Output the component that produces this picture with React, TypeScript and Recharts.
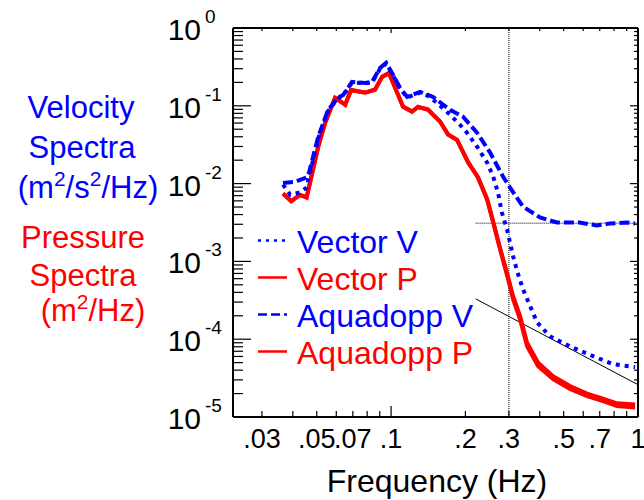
import React from "react";
import { LineChart, Line, XAxis, YAxis, ReferenceLine, Legend } from "recharts";

const FONT = "'Liberation Sans', Arial, Helvetica, sans-serif";
const BLUE = "#0000ff";
const RED = "#ff0000";

// Vector velocity spectrum (dotted)
const vectorVFreq = [0.0365, 0.039, 0.0428, 0.0455, 0.0465, 0.0507, 0.0556, 0.061, 0.064, 0.0695, 0.0785, 0.0838, 0.0903, 0.0955, 0.1009, 0.1087, 0.1162, 0.131, 0.14, 0.1535, 0.1733, 0.19, 0.203, 0.223, 0.245, 0.259, 0.271, 0.281, 0.295, 0.312, 0.324, 0.342, 0.39, 0.44, 0.53, 0.658, 0.792, 0.973];
const vectorVPsd = [0.0097, 0.0072, 0.0077, 0.0089, 0.012, 0.038, 0.086, 0.125, 0.136, 0.2, 0.195, 0.2, 0.3, 0.35, 0.26, 0.167, 0.128, 0.148, 0.136, 0.109, 0.0767, 0.0571, 0.0451, 0.0298, 0.0186, 0.0123, 0.0077, 0.00425, 0.00257, 0.00116, 0.00075, 0.00044, 0.000165, 0.000109, 0.000081, 0.0000605, 0.0000478, 0.0000438];

// Vector pressure spectrum
const vectorPFreq = [0.0365, 0.0394, 0.0428, 0.0455, 0.0507, 0.0541, 0.0593, 0.0652, 0.0689, 0.0785, 0.0861, 0.092, 0.0981, 0.1118, 0.1216, 0.1285, 0.1411, 0.158, 0.1702, 0.185, 0.205, 0.225, 0.2448, 0.2588, 0.2762, 0.2978, 0.3118, 0.3327, 0.3555, 0.394, 0.453, 0.53, 0.622, 0.7215, 0.822, 0.973];
const vectorPPsd = [0.0075, 0.0059, 0.0072, 0.0066, 0.0298, 0.0605, 0.127, 0.103, 0.16, 0.147, 0.16, 0.237, 0.265, 0.097, 0.0838, 0.097, 0.0889, 0.0623, 0.0425, 0.0367, 0.0186, 0.0119, 0.0062, 0.0032, 0.00143, 0.00059, 0.00033, 0.00018, 0.000081, 0.000045, 0.0000307, 0.0000229, 0.0000186, 0.000016, 0.0000138, 0.0000132];

// Aquadopp velocity spectrum (dashed)
const aquaVFreq = [0.0365, 0.0408, 0.0453, 0.0465, 0.0507, 0.0556, 0.061, 0.064, 0.0695, 0.0785, 0.0838, 0.0903, 0.0955, 0.1009, 0.1087, 0.1162, 0.131, 0.1479, 0.1733, 0.1957, 0.2229, 0.2518, 0.284, 0.3033, 0.342, 0.401, 0.47, 0.58, 0.68, 0.77, 0.9, 0.973];
const aquaVPsd = [0.0102, 0.0105, 0.0119, 0.0138, 0.04, 0.089, 0.127, 0.138, 0.203, 0.197, 0.203, 0.307, 0.356, 0.265, 0.17, 0.13, 0.151, 0.13, 0.0889, 0.0723, 0.0451, 0.025, 0.0123, 0.0089, 0.00507, 0.00367, 0.00316, 0.00316, 0.0029, 0.00307, 0.00316, 0.00307];

// Aquadopp pressure spectrum
const aquaPFreq = [0.0365, 0.0394, 0.0428, 0.0455, 0.0507, 0.0541, 0.0593, 0.0652, 0.0689, 0.0785, 0.0861, 0.092, 0.0981, 0.1118, 0.1216, 0.1285, 0.1411, 0.158, 0.1702, 0.185, 0.205, 0.225, 0.2448, 0.2588, 0.2762, 0.2978, 0.3118, 0.3327, 0.3555, 0.394, 0.453, 0.53, 0.622, 0.7215, 0.822, 0.973];
const aquaPPsd = [0.0074, 0.006, 0.0071, 0.0067, 0.03, 0.061, 0.126, 0.104, 0.158, 0.148, 0.162, 0.235, 0.262, 0.098, 0.085, 0.096, 0.09, 0.063, 0.043, 0.0362, 0.019, 0.0121, 0.0064, 0.0033, 0.0015, 0.00063, 0.00036, 0.0002, 0.00009, 0.00005, 0.0000335, 0.000025, 0.00002, 0.0000172, 0.000015, 0.0000145];

// reference lines
const cutoffFreq = 0.3;
const noiseFloorLine = [{ x: 0.22, y: 0.0031 }, { x: 1, y: 0.0031 }];
const slopeLine = [{ x: 0.22, y: 0.00033 }, { x: 1, y: 0.000026 }];

// axes
const xDomain = [0.0229, 1];
const yDomain = [1e-5, 1];
const xTicks = [0.03, 0.04, 0.05, 0.06, 0.07, 0.08, 0.09, 0.1, 0.2, 0.3, 0.4, 0.5, 0.6, 0.7, 0.8, 0.9, 1];
const xLabelTicks = [0.03, 0.05, 0.07, 0.1, 0.2, 0.3, 0.5, 0.7, 1];
const xLabelText = [".03", ".05", ".07", ".1", ".2", ".3", ".5", ".7", "1"];
const yDecades = [1e-5, 1e-4, 1e-3, 1e-2, 1e-1];
const yExponents = ["-5", "-4", "-3", "-2", "-1", "0"];
const minorSteps = [1, 2, 3, 4, 5, 6, 7, 8, 9];
const yTicks = [...yDecades.flatMap((d) => minorSteps.map((m) => m * d)), 1];

const legendNames = ["Vector V", "Vector P", "Aquadopp V", "Aquadopp P"];
const legendColors = [BLUE, RED, BLUE, RED];
const legendDashes = ["3 5", undefined, "9 4", undefined];

const zip = (f: number[], p: number[]) => f.map((x, i) => ({ x, y: p[i] }));
const vectorV = zip(vectorVFreq, vectorVPsd);
const vectorP = zip(vectorPFreq, vectorPPsd);
const aquaV = zip(aquaVFreq, aquaVPsd);
const aquaP = zip(aquaPFreq, aquaPPsd);

const isDecade = (v: number) => Math.abs(Math.log10(v) - Math.round(Math.log10(v))) < 1e-6;

const BottomTick = (props: any) => {
  const { x, y, payload } = props;
  const v = payload.value;
  const idx = xLabelTicks.findIndex((t) => Math.abs(t - v) < 1e-9);
  return (
    <g>
      <line x1={x} x2={x} y1={y} y2={y - (isDecade(v) ? 11 : 6)} stroke="#000" strokeWidth={1.2} />
      {idx >= 0 && (
        <text x={x} y={y + 31} textAnchor="middle" fontSize={27} fontFamily={FONT} fill="#000">
          {xLabelText[idx]}
        </text>
      )}
    </g>
  );
};

const TopTick = (props: any) => {
  const { x, y, payload } = props;
  return <line x1={x} x2={x} y1={y} y2={y + (isDecade(payload.value) ? 5 : 3)} stroke="#000" strokeWidth={1.2} />;
};

const LeftTick = (props: any) => {
  const { x, y, payload } = props;
  const v = payload.value;
  const major = isDecade(v);
  const exp = yExponents[Math.round(Math.log10(v)) + 5];
  return (
    <g>
      <line x1={x} x2={x + (major ? 18 : 10)} y1={y} y2={y} stroke="#000" strokeWidth={1.2} />
      {major && (
        <g fontFamily={FONT} fill="#000">
          <text x={x - 32} y={y + 12} textAnchor="end" fontSize={30}>10</text>
          <text x={x - 28} y={y - 5} fontSize={19}>{exp}</text>
        </g>
      )}
    </g>
  );
};

const RightTick = (props: any) => {
  const { x, y, payload } = props;
  return <line x1={x} x2={x - (isDecade(payload.value) ? 8 : 4)} y1={y} y2={y} stroke="#000" strokeWidth={1.2} />;
};

const AxisTitles = () => (
  <g fontFamily={FONT} fontSize={31} textAnchor="middle">
    <text x={81} y={118} fill={BLUE}>Velocity</text>
    <text x={82} y={158} fill={BLUE}>Spectra</text>
    <text x={88} y={198} fill={BLUE}>
      (m<tspan dy={-12} fontSize={21}>2</tspan>
      <tspan dy={12}>/s</tspan>
      <tspan dy={-12} fontSize={21}>2</tspan>
      <tspan dy={12}>/Hz)</tspan>
    </text>
    <text x={83} y={248} fill={RED}>Pressure</text>
    <text x={83} y={286} fill={RED}>Spectra</text>
    <text x={93} y={321} fill={RED}>
      (m<tspan dy={-12} fontSize={21}>2</tspan>
      <tspan dy={12}>/Hz)</tspan>
    </text>
  </g>
);

const XTitle = () => (
  <text x={437} y={492} textAnchor="middle" fontSize={32} fontFamily={FONT} fill="#000">
    Frequency (Hz)
  </text>
);

const LegendBox = () => (
  <svg width={250} height={160} style={{ display: "block" }}>
    {legendNames.map((name, i) => {
      const base = 31 + 37 * i;
      return (
        <g key={name}>
          <line x1={2} x2={31} y1={base - 12.5} y2={base - 12.5} stroke={legendColors[i]} strokeWidth={2.5} strokeDasharray={legendDashes[i]} />
          <text x={41} y={base} fontSize={32} fontFamily={FONT} fill={legendColors[i]}>{name}</text>
        </g>
      );
    })}
  </svg>
);

export default function App() {
  return (
    <div style={{ position: "absolute", left: 0, top: 0, background: "#fff" }}>
      <LineChart width={644} height={500} margin={{ top: 0, right: 0, bottom: 0, left: 0 }}>
        <XAxis
          dataKey="x"
          type="number"
          scale="log"
          domain={xDomain}
          allowDataOverflow
          ticks={xTicks}
          interval={0}
          height={83}
          tickSize={0}
          tickMargin={0}
          tickLine={false}
          tick={(p: any) => <BottomTick {...p} />}
          axisLine={{ stroke: "#000", strokeWidth: 2 }}
          label={{ content: () => <XTitle /> }}
        />
        <XAxis
          xAxisId="top"
          orientation="top"
          dataKey="x"
          type="number"
          scale="log"
          domain={xDomain}
          allowDataOverflow
          ticks={xTicks}
          interval={0}
          height={28}
          tickSize={0}
          tickMargin={0}
          tickLine={false}
          tick={(p: any) => <TopTick {...p} />}
          axisLine={{ stroke: "#000", strokeWidth: 2 }}
        />
        <YAxis
          type="number"
          scale="log"
          domain={yDomain}
          allowDataOverflow
          ticks={yTicks}
          interval={0}
          width={233}
          tickSize={0}
          tickMargin={0}
          tickLine={false}
          tick={(p: any) => <LeftTick {...p} />}
          axisLine={{ stroke: "#000", strokeWidth: 2 }}
          label={{ content: () => <AxisTitles /> }}
        />
        <YAxis
          yAxisId="right"
          orientation="right"
          type="number"
          scale="log"
          domain={yDomain}
          allowDataOverflow
          ticks={yTicks}
          interval={0}
          width={6}
          tickSize={0}
          tickMargin={0}
          tickLine={false}
          tick={(p: any) => <RightTick {...p} />}
          axisLine={{ stroke: "#000", strokeWidth: 2 }}
        />
        <ReferenceLine x={cutoffFreq} stroke="#000" strokeWidth={1} strokeDasharray="1 1" />
        <ReferenceLine segment={noiseFloorLine} stroke="#000" strokeWidth={1} strokeDasharray="1 1" />
        <ReferenceLine segment={slopeLine} stroke="#000" strokeWidth={1} />
        <Line data={aquaP} dataKey="y" name="Aquadopp P" stroke={RED} strokeWidth={4} dot={false} isAnimationActive={false} />
        <Line data={vectorP} dataKey="y" name="Vector P" stroke={RED} strokeWidth={4} dot={false} isAnimationActive={false} />
        <Line data={vectorV} dataKey="y" name="Vector V" stroke={BLUE} strokeWidth={4} strokeDasharray="4 5" dot={false} isAnimationActive={false} />
        <Line data={aquaV} dataKey="y" name="Aquadopp V" stroke={BLUE} strokeWidth={4} strokeDasharray="10 4" dot={false} isAnimationActive={false} />
        <Legend
          layout="vertical"
          align="center"
          verticalAlign="middle"
          wrapperStyle={{ left: 256, top: 222, width: "auto", height: "auto" }}
          content={() => <LegendBox />}
        />
      </LineChart>
    </div>
  );
}
